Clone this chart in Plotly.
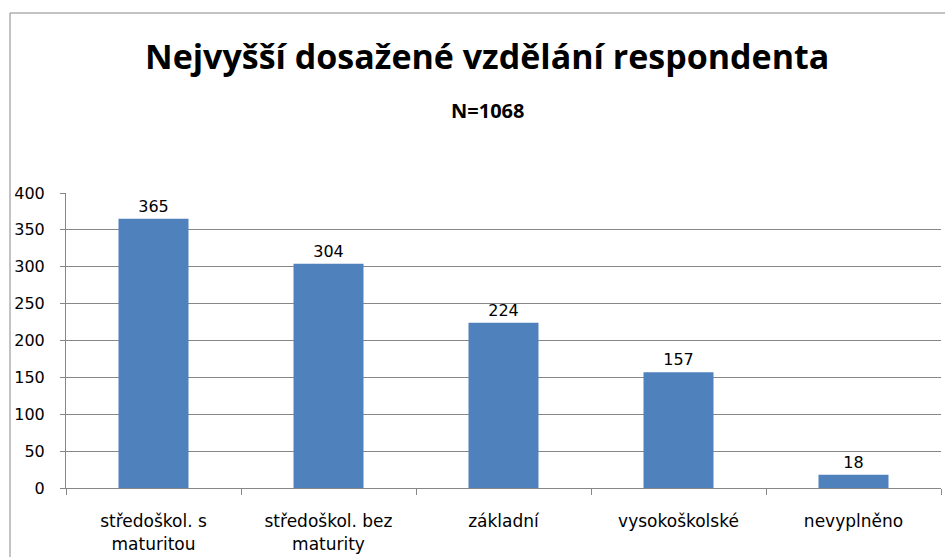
import plotly.graph_objs as go

# data
categories = ['středoškol. s<br>maturitou', 'středoškol. bez<br>maturity', 'základní', 'vysokoškolské', 'nevyplněno']
counts = [365, 304, 224, 157, 18]
y_ticks = [0, 50, 100, 150, 200, 250, 300, 350, 400]

title_text = 'Nejvyšší dosažené vzdělání respondenta'
subtitle_text = 'N=1068'

W, H = 945, 557
ml, mr, mt, mb = 66, 4, 193, 69
pw = W - ml - mr
ph = H - mt - mb

title_font = 'Open Sans, Liberation Sans, sans-serif'
tick_font = 'DejaVu Sans, sans-serif'

trace = go.Bar(x=categories,
               y=counts,
               text=[str(c) for c in counts],
               textposition='outside',
               cliponaxis=False,
               textfont=dict(size=16, color='black', family=tick_font),
               marker=dict(color='#4F81BD', line=dict(width=0)),
               width=0.4)

fig = go.Figure(data=[trace])

fig.update_layout(
    width=W, height=H,
    margin=dict(l=ml, r=mr, t=mt, b=mb),
    paper_bgcolor='white',
    plot_bgcolor='white',
    showlegend=False,
    font=dict(family=tick_font, color='black'),
    annotations=[
        dict(text='<b>' + title_text + '</b>', xref='paper', yref='paper',
             x=(487 - ml) / pw, y=(H - mb - 56) / ph, xanchor='center', yanchor='middle',
             showarrow=False, font=dict(size=34, family=title_font, color='black')),
        dict(text='<b>' + subtitle_text + '</b>', xref='paper', yref='paper',
             x=(487 - ml) / pw, y=(H - mb - 111) / ph, xanchor='center', yanchor='middle',
             showarrow=False, font=dict(size=20, family=title_font, color='black')),
    ],
    shapes=[
        # outer chart border
        dict(type='rect', xref='paper', yref='paper',
             x0=(10 - ml) / pw, x1=1.2, y0=-1, y1=(H - mb - 13) / ph,
             line=dict(color='#878787', width=1), layer='below'),
    ],
)

fig.update_yaxes(range=[0, 400],
                 tickvals=y_ticks,
                 showgrid=True, gridcolor='#878787', gridwidth=1,
                 showline=True, linecolor='#878787', linewidth=1,
                 ticks='outside', ticklen=5, tickcolor='#878787',
                 ticklabelstandoff=12,
                 tickfont=dict(size=16, color='black'),
                 zeroline=False)

fig.update_xaxes(showline=True, linecolor='#878787', linewidth=1,
                 ticks='outside', ticklen=6, tickcolor='#878787',
                 tickson='boundaries',
                 ticklabelstandoff=18,
                 tickfont=dict(size=17, color='black'),
                 range=[-0.5, 4.5])

fig.write_html("out.html", config={'displayModeBar': False},
               post_script="document.body.style.margin='0';")
